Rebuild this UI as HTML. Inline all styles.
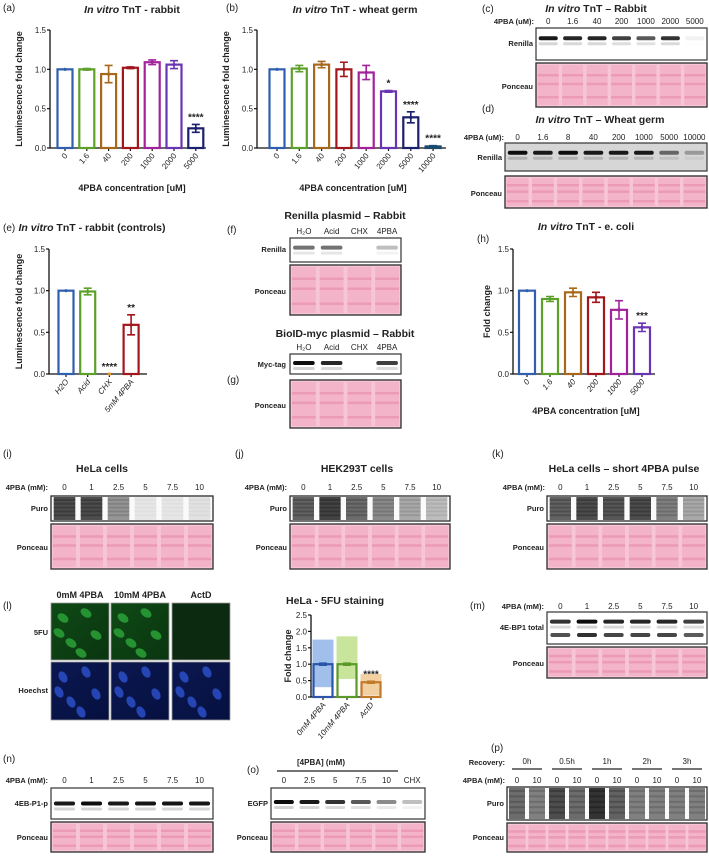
<!DOCTYPE html>
<html><head><meta charset="utf-8"><style>
html,body{margin:0;padding:0;background:#fff}
svg{display:block;font-family:"Liberation Sans",sans-serif}
.t{font-size:8px;fill:#222}
.b{font-weight:bold}
</style></head><body>
<svg id="fig" width="709" height="856" viewBox="0 0 709 856" xmlns="http://www.w3.org/2000/svg">
<defs>
<linearGradient id="grn" x1="0" y1="0" x2="1" y2="1"><stop offset="0" stop-color="#0f4a16"/><stop offset="1" stop-color="#0a3510"/></linearGradient>
<linearGradient id="blu" x1="0" y1="0" x2="1" y2="1"><stop offset="0" stop-color="#0b1850"/><stop offset="1" stop-color="#061040"/></linearGradient>
</defs>
<g id="root"></g>
</svg>
<script>
// ---------- chart data ----------
const catsA = ["0","1.6","40","200","1000","2000","5000"];
const valsA = [1.0,1.0,0.94,1.02,1.09,1.06,0.25];
const errA = [0.0,0.01,0.11,0.01,0.03,0.05,0.05];
const starsA = ["","","","","","","****"];
const catsB = ["0","1.6","40","200","1000","2000","5000","10000"];
const valsB = [1.0,1.01,1.06,1.0,0.96,0.72,0.39,0.02];
const errB = [0.0,0.04,0.04,0.09,0.09,0.01,0.07,0.01];
const starsB = ["","","","","","*","****","****"];
const catsE = ["H2O","Acid","CHX","5mM 4PBA"];
const valsE = [1.0,0.99,0.0,0.59];
const errE = [0.0,0.04,0.0,0.12];
const starsE = ["","","****","**"];
const catsH = ["0","1.6","40","200","1000","5000"];
const valsH = [1.0,0.90,0.98,0.92,0.77,0.56];
const errH = [0.0,0.03,0.05,0.06,0.11,0.05];
const starsH = ["","","","","","***"];
const catsL = ["0mM 4PBA","10mM 4PBA","ActD"];
const valsL = [1.0,1.0,0.45];
const errL = [0.03,0.03,0.03];
const minL = [0.3,0.55,0.05];
const maxL = [1.75,1.85,0.7];
const starsL = ["","","****"];
const ticks15 = [0,0.5,1.0,1.5];
const ticks25 = [0,0.5,1.0,1.5,2.0,2.5];

const NS="http://www.w3.org/2000/svg";
const root=document.getElementById('root');
function el(tag,attrs,parent,txt){const e=document.createElementNS(NS,tag);for(const k in attrs)e.setAttribute(k,attrs[k]);if(txt!==undefined)e.textContent=txt;(parent||root).appendChild(e);return e;}
function T(x,y,s,opts){opts=opts||{};const e=el('text',{x:x,y:y,'font-size':opts.fs||8,'text-anchor':opts.a||'start','font-weight':opts.w||'normal',fill:opts.c||'#222'},opts.p,s);if(opts.it)e.setAttribute('font-style','italic');if(opts.rot!==undefined)e.setAttribute('transform',`rotate(${opts.rot} ${x} ${y})`);return e;}

function chart(cfg){
  const g=el('g',{});
  
  
  const ys=v=>cfg.y0-(v/cfg.ymax)*(cfg.y0-cfg.ytop);
  const xs=i=>cfg.xstart+i*cfg.pitch;
  // axes
  const ax=el('path',{d:`M${cfg.ax} ${cfg.ytop}V${cfg.y0}H${cfg.axEnd}`,stroke:'#111','stroke-width':1.3,fill:'none'},g);
  
  
  cfg.ticks.forEach(t=>{
    el('line',{x1:cfg.ax-3,x2:cfg.ax,y1:ys(t),y2:ys(t),stroke:'#111','stroke-width':1.2},g);
    const tl=T(cfg.ax-4,ys(t)+3,t.toFixed(1),{a:'end',p:g,fs:8});
    
    
  });
  cfg.cats.forEach((c,i)=>{
    const cx=xs(i),v=cfg.vals[i],col=cfg.colors[i],w=cfg.bw;
    el('line',{x1:cx,x2:cx,y1:cfg.y0,y2:cfg.y0+3,stroke:'#111','stroke-width':1.2},g);
    if(cfg.fill){
      const f=el('rect',{x:cx-w/2,y:ys(cfg.maxs[i]),width:w,height:ys(cfg.mins[i])-ys(cfg.maxs[i]),fill:cfg.fill[i],opacity:0.85},g);
      
      
    }
    const r=el('rect',{x:cx-w/2+1,y:ys(v),width:w-2,height:Math.max(0,cfg.y0-ys(v)),fill:'none',stroke:col,'stroke-width':2.2},g);
    
    
    const e=cfg.err[i];
    if(e>0){
      el('path',{d:`M${cx} ${ys(v-e)}V${ys(v+e)}M${cx-4} ${ys(v+e)}H${cx+4}M${cx-4} ${ys(v-e)}H${cx+4}`,stroke:col,'stroke-width':1.6,fill:'none'},g);
    }
    // mean line dots
    el('circle',{cx:cx,cy:ys(v),r:1.6,fill:col},g);
    if(cfg.stars[i]){
      const s=T(cx,ys(v+e)-4,cfg.stars[i],{a:'middle',p:g,fs:10,w:'bold'});
      
      
    }
    const lx=cx+3,ly=cfg.y0+8;
    const tl=T(lx,ly,c,{a:'end',p:g,fs:8,rot:-50,it:cfg.italic});
    
    
  });
  const yt=T(cfg.ytx,(cfg.y0+cfg.ytop)/2,cfg.ytitle,{a:'middle',p:g,fs:9,w:'bold',rot:-90});
  
  
  if(cfg.xtitle){
    const xt=T(cfg.xtx,cfg.xty,cfg.xtitle,{a:'middle',p:g,fs:9,w:'bold'});
    
    
  }
}
const C7=["#2f5fae","#5ea12a","#a8681c","#a3161c","#a2229c","#6a35b2","#1c1f6e","#1b4a6e"];
chart({name:'chart-a',cats:catsA,vals:valsA,err:errA,stars:starsA,colors:C7,ax:50,axEnd:206,y0:148,ytop:30,ymax:1.5,ticks:ticks15,xstart:65,pitch:21.8,bw:17,ytitle:'Luminescence fold change',ytx:22,xtitle:'4PBA concentration [uM]',xtx:132,xty:191});
chart({name:'chart-b',cats:catsB,vals:valsB,err:errB,stars:starsB,colors:["#2f5fae","#5ea12a","#a8681c","#a3161c","#a2229c","#6a35b2","#1c1f6e","#1b4a6e"],ax:257,axEnd:446,y0:148,ytop:30,ymax:1.5,ticks:ticks15,xstart:277,pitch:22.3,bw:17,ytitle:'Luminescence fold change',ytx:229,xtitle:'4PBA concentration [uM]',xtx:353,xty:191});
chart({name:'chart-e',cats:catsE,vals:valsE,err:errE,stars:starsE,colors:["#2f5fae","#5ea12a","#e0952a","#a3161c"],ax:49,axEnd:147,y0:374,ytop:249,ymax:1.5,ticks:ticks15,xstart:66,pitch:21.7,bw:17,ytitle:'Luminescence fold change',ytx:22,italic:true});
chart({name:'chart-h',cats:catsH,vals:valsH,err:errH,stars:starsH,colors:["#2f5fae","#5ea12a","#a8681c","#a3161c","#a2229c","#6a35b2"],ax:513,axEnd:655,y0:374,ytop:249,ymax:1.5,ticks:ticks15,xstart:527,pitch:23,bw:18,ytitle:'Fold change',ytx:490,xtitle:'4PBA concentration [uM]',xtx:586,xty:414,italic:true});
chart({name:'chart-l',cats:catsL,vals:valsL,err:errL,stars:starsL,colors:["#2a55a8","#5a9a28","#c07a28"],fill:["#8fb4e8","#bfe08a","#f0c890"],mins:minL,maxs:maxL,ax:311,axEnd:380,y0:697,ytop:615,ymax:2.5,ticks:ticks25,xstart:323,pitch:24,bw:21,ytitle:'Fold change',ytx:291,italic:true});

// ---------- titles / labels ----------
function lab(x,y,s,name,o){const t=T(x,y,s,o||{fs:10});return t;}
function title(cx,y,rest,name,italicPrefix){
  const t=el('text',{x:cx,y:y,'font-size':10.5,'font-weight':'bold','text-anchor':'middle',fill:'#222'});
  
  
  if(italicPrefix){el('tspan',{'font-style':'italic'},t,italicPrefix);}
  el('tspan',{},t,rest);
}
lab(3,11,'(a)','panel-label-a',{fs:10});
title(132,13,' TnT - rabbit','title-a','In vitro');
lab(226,11,'(b)','panel-label-b',{fs:10});
title(355,13,' TnT - wheat germ','title-b','In vitro');
lab(482,12,'(c)','panel-label-c',{fs:10});
title(596,12,' TnT – Rabbit','title-c','In vitro');
lab(482,112,'(d)','panel-label-d',{fs:10});
title(600,123,' TnT – Wheat germ','title-d','In vitro');
lab(3,231,'(e)','panel-label-e',{fs:10});
title(92,231,' TnT - rabbit (controls)','title-e','In vitro');
lab(227,233,'(f)','panel-label-f',{fs:10});
title(345,219,'Renilla plasmid – Rabbit','title-f');
lab(227,383,'(g)','panel-label-g',{fs:10});
title(345,337,'BioID-myc plasmid – Rabbit','title-g');
lab(477,242,'(h)','panel-label-h',{fs:10});
title(586,230,' TnT - e. coli','title-h','In vitro');
lab(3,457,'(i)','panel-label-i',{fs:10});
title(102,472,'HeLa cells','title-i');
lab(235,457,'(j)','panel-label-j',{fs:10});
title(357,472,'HEK293T cells','title-j');
lab(492,457,'(k)','panel-label-k',{fs:10});
title(624,472,'HeLa cells – short 4PBA pulse','title-k');
lab(3,609,'(l)','panel-label-l',{fs:10});
title(335,604,'HeLa - 5FU staining','title-l-chart');
lab(470,609,'(m)','panel-label-m',{fs:10});
lab(3,762,'(n)','panel-label-n',{fs:10});
lab(247,773,'(o)','panel-label-o',{fs:10});
lab(491,751,'(p)','panel-label-p',{fs:10});
T(5,0,'');

// ---------- blots ----------
const lanesC=["0","1.6","40","200","1000","2000","5000"];
const bandC=[0.9,0.85,0.85,0.75,0.65,0.8,0.05];
const lanesD=["0","1.6","8","40","200","1000","5000","10000"];
const bandD=[0.95,0.9,0.95,0.9,0.9,0.9,0.6,0.4];
const lanesF=["H\u2082O","Acid","CHX","4PBA"];
const bandF=[0.55,0.55,0,0.25];
const bandG=[0.95,0.85,0,0.75];
const lanesI=["0","1","2.5","5","7.5","10"];
const smearI=[0.85,0.85,0.5,0.1,0.1,0.12];
const smearJ=[0.75,0.9,0.7,0.55,0.4,0.3];
const smearK=[0.75,0.85,0.8,0.85,0.6,0.4];
const bandM=[0.8,0.95,0.85,0.85,0.85,0.75];
const bandN=[0.9,0.95,0.9,0.92,0.92,0.92];
const lanesO=["0","2.5","5","7.5","10","CHX"];
const bandO=[0.95,0.9,0.8,0.65,0.45,0.25];
const lanesP=["0","10","0","10","0","10","0","10","0","10"];
const smearP=[0.7,0.6,0.85,0.7,0.98,0.75,0.6,0.6,0.6,0.6];

function box(x,y,w,h,name,bg){const r=el('rect',{x:x,y:y,width:w,height:h,fill:bg||'#fff',stroke:'#333','stroke-width':1.2});return r;}
function laneX(x,w,n,i){return x+w*(i+0.5)/n;}
function bandBlot(x,y,w,h,vals,name,bg,bandY){
  box(x,y,w,h,name,bg||'#fff');
  const n=vals.length,lw=w/n*0.78;
  vals.forEach((v,i)=>{
    if(v<=0)return;
    const cx=laneX(x,w,n,i);
    const g=Math.round(255*(1-v));
    el('rect',{x:cx-lw/2,y:y+h*bandY-2,width:lw,height:4,rx:2,fill:`rgb(${g},${g},${g})`});
    el('rect',{x:cx-lw/2,y:y+h*bandY+4,width:lw,height:3,rx:1.5,fill:`rgb(${g},${g},${g})`,opacity:0.18});
  });
}
function smearBlot(x,y,w,h,vals,name){
  box(x,y,w,h,name,'#fafafa');
  const n=vals.length,lw=w/n*0.8;
  vals.forEach((v,i)=>{
    const cx=laneX(x,w,n,i);
    const g=Math.round(240*(1-v));
    el('rect',{x:cx-lw/2,y:y+1,width:lw,height:h-2,fill:`rgb(${g+10},${g+10},${g+10})`,opacity:0.85});
    for(let k=0;k<5;k++){
      el('rect',{x:cx-lw/2,y:y+3+k*(h-6)/5,width:lw,height:2,fill:'#000',opacity:0.25*v});
    }
  });
  el('rect',{x:x,y:y,width:w,height:h,fill:'none',stroke:'#333','stroke-width':1.2});
}
function ponceau(x,y,w,h,n,name){
  box(x,y,w,h,name,'#f7c6d6');
  const lw=w/n*0.86;
  for(let i=0;i<n;i++){
    const cx=laneX(x,w,n,i);
    el('rect',{x:cx-lw/2,y:y+2,width:lw,height:h-4,fill:'#f3b3c8'});
    [0.25,0.45,0.75].forEach(f=>el('rect',{x:cx-lw/2,y:y+h*f,width:lw,height:2.5,fill:'#e88aaa',opacity:0.6}));
  }
  el('rect',{x:x,y:y,width:w,height:h,fill:'none',stroke:'#333','stroke-width':1.2});
}
function laneLabels(x,w,labels,y,name){
  labels.forEach((s,i)=>{const t=T(laneX(x,w,labels.length,i),y,s,{a:'middle',fs:8});});
}
function rowLabel(x,y,s,name){const t=T(x,y,s,{a:'end',fs:7.5,w:'bold'});}

// c
rowLabel(534,24,'4PBA (uM):','conc-label-c');laneLabels(536,171,lanesC,24,'lane-label-c');
bandBlot(536,28,171,32,bandC,'renilla-blot-c','#fff',0.32);rowLabel(533,46,'Renilla','row-label');
ponceau(536,63,171,44,7,'ponceau-blot-c');rowLabel(533,89,'Ponceau','row-label');
// d
rowLabel(504,140,'4PBA (uM):','conc-label-d');laneLabels(505,202,lanesD,140,'lane-label-d');
bandBlot(505,143,202,28,bandD,'renilla-blot-d','#d6d6d6',0.35);rowLabel(502,160,'Renilla','row-label');
ponceau(505,176,202,32,8,'ponceau-blot-d');rowLabel(502,196,'Ponceau','row-label');
// f
laneLabels(290,111,lanesF,234,'lane-label-f');
bandBlot(290,238,111,24,bandF,'renilla-blot-f','#fff',0.4);rowLabel(286,252,'Renilla','row-label');
ponceau(290,265,111,50,4,'ponceau-blot-f');rowLabel(286,294,'Ponceau','row-label');
// g
laneLabels(290,111,lanesF,350,'lane-label-g');
bandBlot(290,354,111,20,bandG,'myc-blot-g','#fff',0.45);rowLabel(286,367,'Myc-tag','row-label');
ponceau(290,380,111,48,4,'ponceau-blot-g');rowLabel(286,408,'Ponceau','row-label');
// i
rowLabel(48,490,'4PBA (mM):','conc-label-i');laneLabels(51,162,lanesI,490,'lane-label-i');
smearBlot(51,496,162,25,smearI,'puro-blot-i');rowLabel(48,511,'Puro','row-label');
ponceau(51,524,162,45,6,'ponceau-blot-i');rowLabel(48,550,'Ponceau','row-label');
// j
rowLabel(287,490,'4PBA (mM):','conc-label-j');laneLabels(290,160,lanesI,490,'lane-label-j');
smearBlot(290,496,160,25,smearJ,'puro-blot-j');rowLabel(287,511,'Puro','row-label');
ponceau(290,524,160,45,6,'ponceau-blot-j');rowLabel(287,550,'Ponceau','row-label');
// k
rowLabel(545,490,'4PBA (mM):','conc-label-k');laneLabels(547,160,lanesI,490,'lane-label-k');
smearBlot(547,496,160,25,smearK,'puro-blot-k');rowLabel(544,511,'Puro','row-label');
ponceau(547,524,160,45,6,'ponceau-blot-k');rowLabel(544,550,'Ponceau','row-label');
// l images
[['0mM 4PBA',51],['10mM 4PBA',111],['ActD',172]].forEach(([s,x],i)=>{
  const t=T(x+29,598,s,{a:'middle',fs:9,w:'bold'});
  const g=el('rect',{x:x,y:603,width:58,height:57,fill:i<2?'url(#grn)':'#0b2a10',stroke:'#999','stroke-width':0.8});
  
  const h=el('rect',{x:x,y:662,width:58,height:58,fill:'url(#blu)',stroke:'#999','stroke-width':0.8});
  
  const nuc=[[12,15],[35,10],[45,32],[20,40],[30,50],[8,30]];
  nuc.forEach(([a,b])=>{
    if(i<2) el('ellipse',{cx:x+a,cy:603+b,rx:6,ry:4,fill:'#2da83a',opacity:0.8,transform:`rotate(35 ${x+a} ${603+b})`});
    el('ellipse',{cx:x+a,cy:662+b,rx:6,ry:4,fill:'#2b4fc8',opacity:0.85,transform:`rotate(60 ${x+a} ${662+b})`});
  });
});
rowLabel(48,635,'5FU','row-label');rowLabel(48,693,'Hoechst','row-label');
// m
rowLabel(544,609,'4PBA (mM):','conc-label-m');laneLabels(547,160,lanesI,609,'lane-label-m');
bandBlot(547,612,160,32,bandM,'4ebp1-blot-m','#fff',0.3);
(function(){const n=6;bandM.forEach((v,i)=>{const cx=laneX(547,160,n,i);const g=Math.round(255*(1-v));el('rect',{x:cx-10,y:633,width:20,height:4,rx:2,fill:`rgb(${g},${g},${g})`,opacity:0.85});});})();
rowLabel(544,630,'4E-BP1 total','row-label');
ponceau(547,647,160,31,6,'ponceau-blot-m');rowLabel(544,666,'Ponceau','row-label');
// n
rowLabel(48,783,'4PBA (mM):','conc-label-n');laneLabels(51,162,lanesI,783,'lane-label-n');
bandBlot(51,788,162,31,bandN,'4ebp1p-blot-n','#fff',0.5);rowLabel(48,806,'4EB-P1-p','row-label');
ponceau(51,822,162,30,6,'ponceau-blot-n');rowLabel(48,840,'Ponceau','row-label');
// o
T(321,765,'[4PBA] (mM)',{a:'middle',fs:8,w:'bold'});
el('line',{x1:277,x2:398,y1:771,y2:771,stroke:'#222','stroke-width':1.2});
laneLabels(271,154,lanesO,783,'lane-label-o');
bandBlot(271,788,154,31,bandO,'egfp-blot-o','#fff',0.45);rowLabel(268,806,'EGFP','row-label');
ponceau(271,822,154,30,6,'ponceau-blot-o');rowLabel(268,840,'Ponceau','row-label');
// p
rowLabel(505,765,'Recovery:','recovery-label');
["0h","0.5h","1h","2h","3h"].forEach((s,i)=>{
  const cx=507+200*(2*i+1)/10;
  const t=T(cx,764,s,{a:'middle',fs:8});
  el('line',{x1:cx-15,x2:cx+15,y1:769,y2:769,stroke:'#222','stroke-width':1.2});
});
rowLabel(505,783,'4PBA (mM):','conc-label-p');laneLabels(507,200,lanesP,783,'lane-label-p');
smearBlot(507,787,200,33,smearP,'puro-blot-p');rowLabel(504,806,'Puro','row-label');
ponceau(507,823,200,29,10,'ponceau-blot-p');rowLabel(504,840,'Ponceau','row-label');
</script>
</body></html>
